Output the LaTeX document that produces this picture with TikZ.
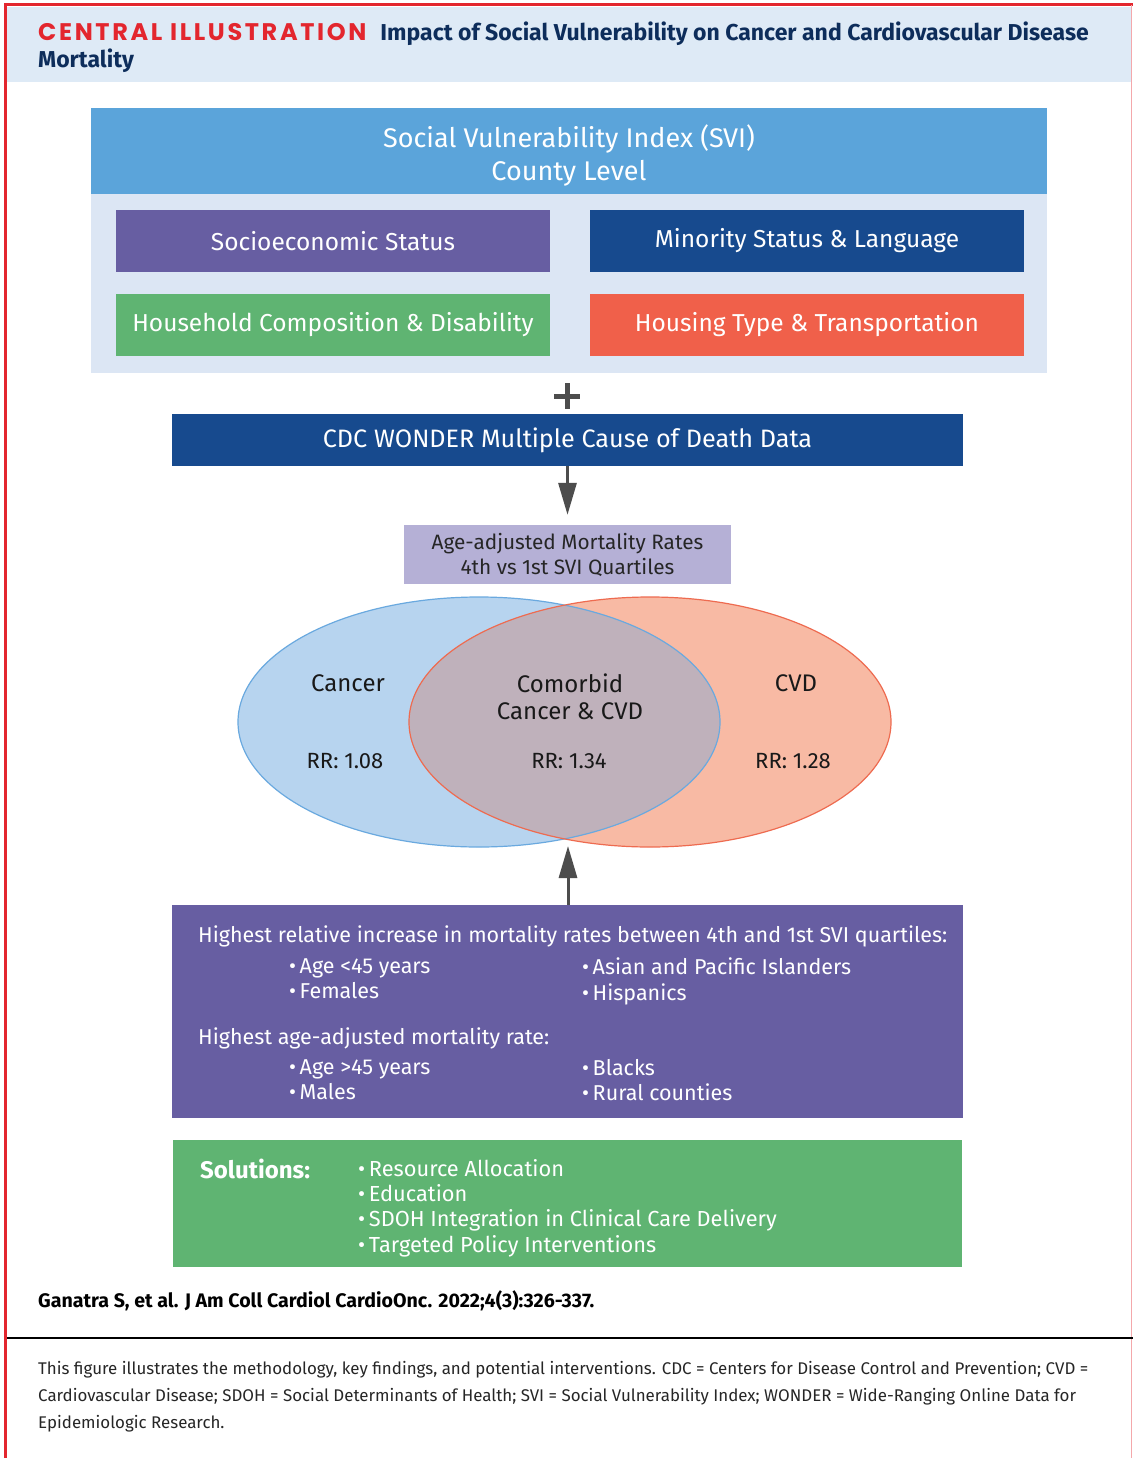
\documentclass[tikz,border=0pt]{standalone}
\usepackage{fontspec}
\setmainfont{Fira Sans}
\newfontfamily\headfont{Poppins}[LetterSpace=11]
\usetikzlibrary{arrows.meta,positioning,shapes.geometric}

\definecolor{redline}{HTML}{E3262E}
\definecolor{navy}{HTML}{0D2D5B}
\definecolor{hdrback}{HTML}{DEEAF6}
\definecolor{svitop}{HTML}{5BA4DA}
\definecolor{sviback}{HTML}{DCE6F4}
\definecolor{purp}{HTML}{675EA2}
\definecolor{dblue}{HTML}{174A8E}
\definecolor{grn}{HTML}{5FB472}
\definecolor{orng}{HTML}{F0604A}
\definecolor{lav}{HTML}{B5B0D6}
\definecolor{cancfill}{HTML}{B7D4EF}
\definecolor{cancline}{HTML}{6AA9DF}
\definecolor{cvdfill}{HTML}{F8BAA4}
\definecolor{cvdline}{HTML}{EE6B50}
\definecolor{bothfill}{HTML}{BFB1BB}
\definecolor{arrgray}{HTML}{4D4D4D}

\newcommand{\fs}[1]{\fontsize{#1}{#1}\selectfont}

\begin{document}
\begin{tikzpicture}[x=1pt, y=-1pt,
  catbox/.style={rectangle, inner sep=0pt, minimum width=434pt, minimum height=62pt, text=white, font=\fs{24.5}},
  widebox/.style={rectangle, inner sep=0pt, minimum width=791pt, text=white},
  venn/.style={ellipse, inner sep=0pt, minimum width=482pt, minimum height=250pt},
  bigarrow/.style={draw=arrgray, line width=3pt, -{Triangle[length=32pt,width=18pt]}},
  bullets/.style={anchor=north west, align=left, inner sep=0pt, text=white, font=\fs{21.5}, text depth=0pt}]

\useasboundingbox (0,0) rectangle (1133,1458);
\fill[white] (0,0) rectangle (1133,1458);

% header and frame
\fill[hdrback] (7,7) rectangle (1131,82);
\draw[redline, line width=3pt] (5,1458) -- (5,5) -- (1133,5);
\draw[redline!40, line width=1pt] (1131.5,5) -- (1131.5,1458);
\node[anchor=base west, inner sep=0pt] (title) at (38,41)
  {{\headfont\bfseries\fs{24}\color{redline}CENTRAL ILLUSTRATION}\hspace{14pt}{\bfseries\fs{23}\color{navy}Impact of Social Vulnerability on Cancer and Cardiovascular Disease}};
\node[anchor=base west, inner sep=0pt, font=\bfseries\fs{23}, text=navy] (title2) at (38,68) {Mortality};

% SVI block
\fill[sviback] (91,108) rectangle (1047,373);
\node[rectangle, fill=svitop, inner sep=0pt, minimum width=956pt, minimum height=86pt, anchor=north west] (svi) at (91,108) {};
\node[text=white, align=center, font=\fs{27}, execute at begin node=\setlength{\baselineskip}{33pt}] (svitext) at (569,155)
  {Social Vulnerability Index (SVI)\\County Level};
\node[catbox, fill=purp] (ses) at (333,241) {Socioeconomic Status};
\node[catbox, fill=dblue] (msl) at (807,241) {Minority Status \& Language};
\node[catbox, fill=grn] (hcd) at (333,325) {Household Composition \& Disability};
\node[catbox, fill=orng] (htt) at (807,325) {Housing Type \& Transportation};

% plus
\draw[arrgray, line width=5pt] (554,396) -- (580,396);
\draw[arrgray, line width=5pt] (567,383) -- (567,409);

\node[widebox, fill=dblue, minimum height=52pt, font=\fs{25.2}] (cdc) at (567.5,440) {CDC WONDER Multiple Cause of Death Data};
\node[rectangle, fill=lav, inner sep=0pt, minimum width=327pt, minimum height=59pt, align=center,
  text=black!85, font=\fs{20.8}, execute at begin node=\setlength{\baselineskip}{25pt}] (aamr) at (567.5,554.5)
  {Age-adjusted Mortality Rates\\4th vs 1st SVI Quartiles};
\draw[bigarrow] (cdc.south -| aamr.north) -- ([yshift=10pt]aamr.north);

% venn
\node[venn, fill=cancfill] (cancer) at (479,722) {};
\node[venn, fill=cvdfill] (cvd) at (650,722) {};
\begin{scope}
  \clip (479,722) ellipse (241 and 125);
  \fill[bothfill] (650,722) ellipse (241 and 125);
\end{scope}
\draw[cancline, line width=1.2pt] (479,722) ellipse (241 and 125);
\draw[cvdline, line width=1.2pt] (650,722) ellipse (241 and 125);
\coordinate (vennlow) at (568,846);

\node[font=\fs{24}, text=black!90] (lcanc) at (348,683) {Cancer};
\node[font=\fs{22}, text=black!90] (rrcanc) at (345,761) {RR: 1.08};
\node[font=\fs{24}, text=black!90, align=center, execute at begin node=\setlength{\baselineskip}{27pt}] (lboth) at (570,697) {Comorbid\\Cancer \& CVD};
\node[font=\fs{22}, text=black!90] (rrboth) at (569,761) {RR: 1.34};
\node[font=\fs{24}, text=black!90] (lcvd) at (796,683) {CVD};
\node[font=\fs{22}, text=black!90] (rrcvd) at (793,761) {RR: 1.28};

% findings
\node[widebox, fill=purp, minimum height=213pt] (find) at (567.5,1011.5) {};
\draw[bigarrow] (find.north -| vennlow) -- (vennlow);
\node[anchor=base west, inner sep=0pt, text=white, font=\fs{21.5}] (inc) at (198,942)
  {Highest relative increase in mortality rates between 4th and 1st SVI quartiles:};
\node[bullets] (inc1) at (289,958) {\textbullet\,Age <45 years\\[4pt]\textbullet\,Females};
\node[bullets] (inc2) at (582,958) {\textbullet\,Asian and Pacific Islanders\\[4pt]\textbullet\,Hispanics};
\node[anchor=base west, inner sep=0pt, text=white, font=\fs{21.5}] (high) at (198,1044)
  {Highest age-adjusted mortality rate:};
\node[bullets] (high1) at (289,1059) {\textbullet\,Age >45 years\\[4pt]\textbullet\,Males};
\node[bullets] (high2) at (582,1059) {\textbullet\,Blacks\\[4pt]\textbullet\,Rural counties};

% solutions
\node[rectangle, fill=grn, inner sep=0pt, minimum width=789pt, minimum height=127pt] (sol) at (567.5,1203.5) {};
\node[anchor=base west, inner sep=0pt, text=white, font=\bfseries\fs{24}] (soltitle) at (200,1178) {Solutions:};
\node[bullets, font=\fs{21.8}] (sollist) at (358,1159) {\textbullet\,Resource Allocation\\[3.5pt]\textbullet\,Education\\[3.5pt]%
  \textbullet\,SDOH Integration in Clinical Care Delivery\\[3.5pt]\textbullet\,Targeted Policy Interventions};

% citation and caption
\node[anchor=base west, inner sep=0pt, font=\bfseries\fs{19.6}] (cite) at (38,1307)
  {Ganatra S, et al. J Am Coll Cardiol CardioOnc. 2022;4(3):326-337.};
\draw[black, line width=2pt] (7,1338) -- (1133,1338);
\node[anchor=north west, inner sep=0pt, align=left, font=\fs{16.9}, text=black!85,
  execute at begin node=\setlength{\baselineskip}{27pt}] (caption) at (38,1361)
  {This figure illustrates the methodology, key findings, and potential interventions. CDC = Centers for Disease Control and Prevention; CVD =\\
   Cardiovascular Disease; SDOH = Social Determinants of Health; SVI = Social Vulnerability Index; WONDER = Wide-Ranging Online Data for\\
   Epidemiologic Research.};

\end{tikzpicture}
\end{document}
